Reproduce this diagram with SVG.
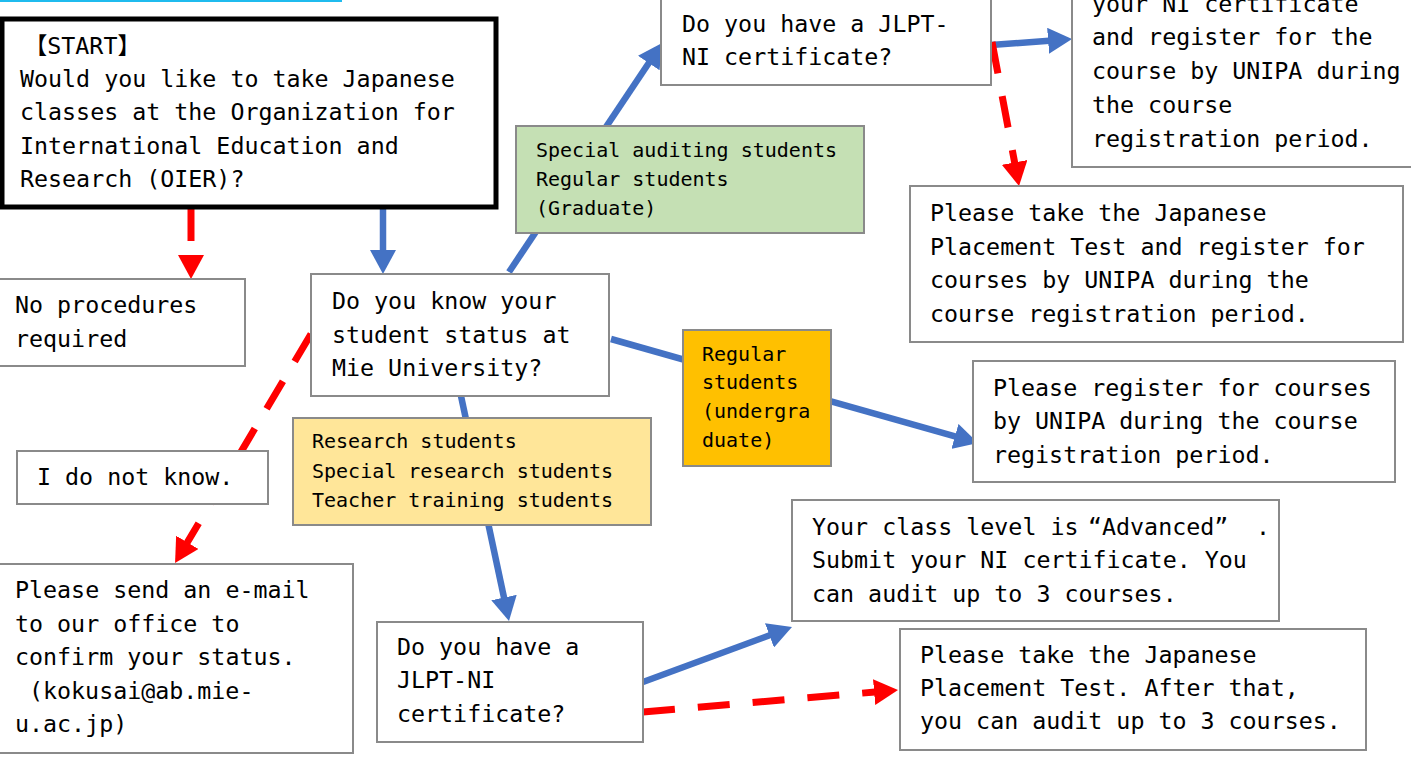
<svg xmlns="http://www.w3.org/2000/svg" width="1411" height="760" viewBox="0 0 1411 760">
<style>
.t{font-family:"DejaVu Sans Mono","Noto Sans CJK JP",monospace;font-size:23.3px;fill:#000}
.s{font-family:"DejaVu Sans Mono","Noto Sans CJK JP",monospace;font-size:20px;fill:#000}
.box{fill:#fff;stroke:#8a8a8a;stroke-width:2}
.blue{fill:none;stroke:#4472c4;stroke-width:6.5}
.red{fill:none;stroke:#ff0000;stroke-width:7;stroke-dasharray:32 23}
</style>
<defs>
<marker id="ab" markerUnits="userSpaceOnUse" markerWidth="24" markerHeight="26" refX="1" refY="13" orient="auto" viewBox="0 0 24 26"><path d="M0,0 L24,13 L0,26 z" fill="#4472c4"/></marker>
<marker id="ar" markerUnits="userSpaceOnUse" markerWidth="24" markerHeight="26" refX="1" refY="13" orient="auto" viewBox="0 0 24 26"><path d="M0,0 L24,13 L0,26 z" fill="#ff0000"/></marker>
</defs>
<rect x="0" y="0" width="342" height="2" fill="#1fbbee"/>
<g id="connectors">
<path class="red" d="M191,209 L191,256" marker-end="url(#ar)"/>
<path class="blue" d="M383,209 L383,251" marker-end="url(#ab)"/>
<path class="blue" d="M509,272 L649.3,62.2" marker-end="url(#ab)"/>
<path class="blue" d="M611,339 L955.9,436.7" marker-end="url(#ab)"/>
<path class="blue" d="M461,396 L504.2,598.5" marker-end="url(#ab)"/>
<path class="red" d="M311,334 L186.8,543.2" marker-end="url(#ar)"/>
<path class="blue" d="M991,45 L1049.1,40.7" marker-end="url(#ab)"/>
<path class="red" d="M992,42 L1014.8,163.4" marker-end="url(#ar)"/>
<path class="blue" d="M643,682 L770.4,635" marker-end="url(#ab)"/>
<path class="red" d="M643,712 L875.1,692" marker-end="url(#ar)"/>
</g>
<g id="start">
<rect x="2" y="19" width="494" height="188" fill="#fff" stroke="#000" stroke-width="5"/>
<text class="t" x="24" y="54">【START】</text>
<text class="t" x="20" y="87">Would you like to take Japanese</text>
<text class="t" x="20" y="120">classes at the Organization for</text>
<text class="t" x="20" y="154">International Education and</text>
<text class="t" x="20" y="187">Research (OIER)?</text>
</g>
<g id="no-proc">
<rect class="box" x="-2" y="279" width="247" height="87"/>
<text class="t" x="15" y="313">No procedures</text>
<text class="t" x="15" y="347">required</text>
</g>
<g id="know-status">
<rect class="box" x="311" y="274" width="298" height="122"/>
<text class="t" x="332" y="309">Do you know your</text>
<text class="t" x="332" y="343">student status at</text>
<text class="t" x="332" y="376">Mie University?</text>
</g>
<g id="dont-know">
<rect class="box" x="17" y="451" width="251" height="53"/>
<text class="t" x="37" y="485">I do not know.</text>
</g>
<g id="email">
<rect class="box" x="-2" y="564" width="355" height="189"/>
<text class="t" x="15" y="598">Please send an e-mail</text>
<text class="t" x="15" y="632">to our office to</text>
<text class="t" x="15" y="665">confirm your status.</text>
<text class="t" x="29" y="699">(kokusai@ab.mie-</text>
<text class="t" x="15" y="732">u.ac.jp)</text>
</g>
<g id="label-graduate">
<rect x="516" y="126" width="348" height="107" fill="#c5e0b4" stroke="#8a8a8a" stroke-width="2"/>
<text class="s" x="536" y="157">Special auditing students</text>
<text class="s" x="536" y="186">Regular students</text>
<text class="s" x="536" y="215">(Graduate)</text>
</g>
<g id="label-research">
<rect x="293" y="418" width="358" height="107" fill="#ffe699" stroke="#8a8a8a" stroke-width="2"/>
<text class="s" x="312" y="448">Research students</text>
<text class="s" x="312" y="478">Special research students</text>
<text class="s" x="312" y="507">Teacher training students</text>
</g>
<g id="label-undergrad">
<rect x="683" y="330" width="148" height="136" fill="#ffc000" stroke="#8a8a8a" stroke-width="2"/>
<text class="s" x="702" y="361">Regular</text>
<text class="s" x="702" y="389">students</text>
<text class="s" x="702" y="418">(undergra</text>
<text class="s" x="702" y="447">duate)</text>
</g>
<g id="jlpt-top">
<rect class="box" x="661" y="-3" width="330" height="88"/>
<text class="t" x="682" y="32">Do you have a JLPT-</text>
<text class="t" x="682" y="65">NI certificate?</text>
</g>
<g id="submit-register">
<rect class="box" x="1072" y="-40" width="400" height="207"/>
<text class="t" x="1092" y="12">your NI certificate</text>
<text class="t" x="1092" y="45">and register for the</text>
<text class="t" x="1092" y="79">course by UNIPA during</text>
<text class="t" x="1092" y="113">the course</text>
<text class="t" x="1092" y="147">registration period.</text>
</g>
<g id="placement-register">
<rect class="box" x="910" y="186" width="493" height="156"/>
<text class="t" x="930" y="221">Please take the Japanese</text>
<text class="t" x="930" y="255">Placement Test and register for</text>
<text class="t" x="930" y="288">courses by UNIPA during the</text>
<text class="t" x="930" y="322">course registration period.</text>
</g>
<g id="register">
<rect class="box" x="973" y="361" width="422" height="121"/>
<text class="t" x="993" y="396">Please register for courses</text>
<text class="t" x="993" y="429">by UNIPA during the course</text>
<text class="t" x="993" y="463">registration period.</text>
</g>
<g id="advanced">
<rect class="box" x="792" y="500" width="487" height="121"/>
<text class="t" x="812" y="535">Your class level is <tspan x="1088">“Advanced”</tspan><tspan x="1256">.</tspan></text>
<text class="t" x="812" y="568">Submit your NI certificate. You</text>
<text class="t" x="812" y="602">can audit up to 3 courses.</text>
</g>
<g id="jlpt-bottom">
<rect class="box" x="377" y="622" width="266" height="120"/>
<text class="t" x="397" y="655">Do you have a</text>
<text class="t" x="397" y="688">JLPT-NI</text>
<text class="t" x="397" y="722">certificate?</text>
</g>
<g id="placement-audit">
<rect class="box" x="900" y="629" width="466" height="121"/>
<text class="t" x="920" y="663">Please take the Japanese</text>
<text class="t" x="920" y="696">Placement Test. After that,</text>
<text class="t" x="920" y="729">you can audit up to 3 courses.</text>
</g>
</svg>
